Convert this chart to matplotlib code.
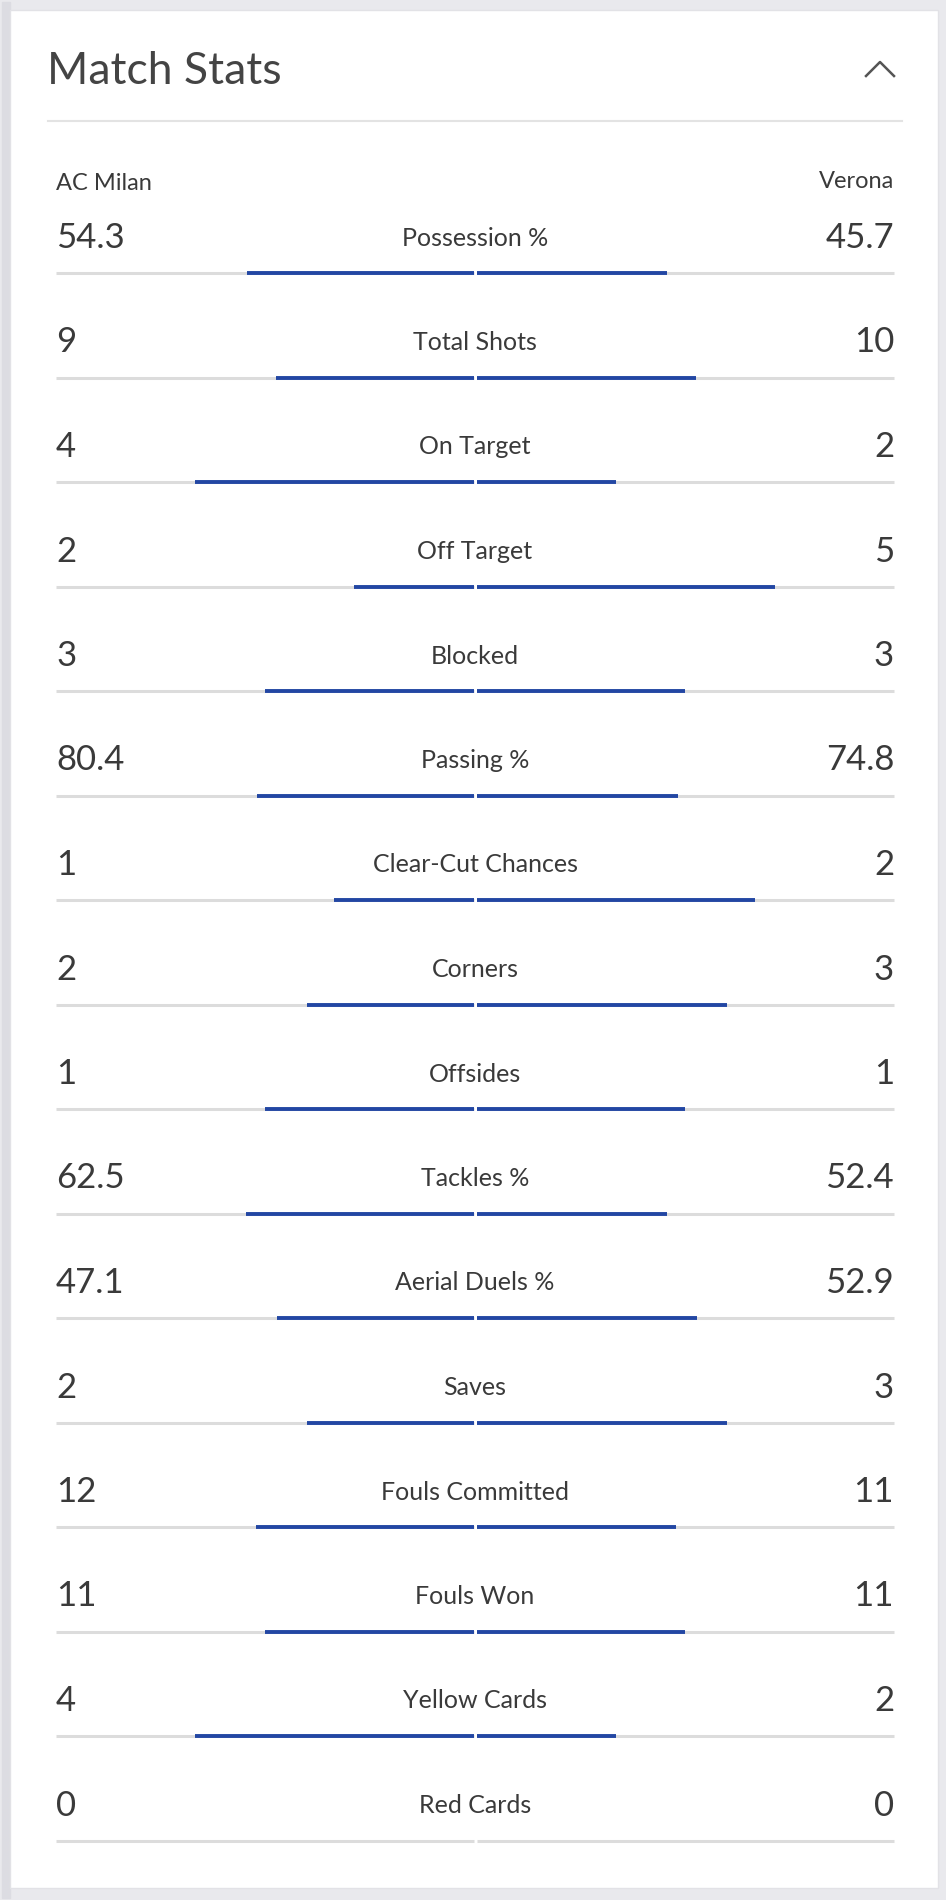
import matplotlib
matplotlib.use("Agg")
import matplotlib.pyplot as plt
from matplotlib.patches import Rectangle
from matplotlib.lines import Line2D

home_team = "AC Milan"
away_team = "Verona"
stat_labels = ["Possession %", "Total Shots", "On Target", "Off Target", "Blocked",
               "Passing %", "Clear-Cut Chances", "Corners", "Offsides", "Tackles %",
               "Aerial Duels %", "Saves", "Fouls Committed", "Fouls Won",
               "Yellow Cards", "Red Cards"]
home_values = ["54.3", "9", "4", "2", "3", "80.4", "1", "2", "1", "62.5", "47.1",
               "2", "12", "11", "4", "0"]
away_values = ["45.7", "10", "2", "5", "3", "74.8", "2", "3", "1", "52.4", "52.9",
               "3", "11", "11", "2", "0"]

W, H = 946, 1900
fig = plt.figure(figsize=(W / 100, H / 100), dpi=100)
fig.patch.set_facecolor("#e9e9ed")
ax = fig.add_axes([0, 0, 1, 1])
ax.set_xlim(0, W)
ax.set_ylim(H, 0)
ax.axis("off")

FONT = ["Lato", "DejaVu Sans"]
TXT = "#3a3a3a"
BLUE = "#2246a3"
TRACK = "#dcdcdc"

# card
ax.add_patch(Rectangle((2, 2), 8, H - 4, color="#dcdce2", zorder=0))
ax.add_patch(Rectangle((10, 10), 928, 1878, facecolor="white", edgecolor="#e2e2e6",
                       lw=1, zorder=1))

# header
ax.text(47, 71, "Match Stats", fontsize=32, color="#444444", family=FONT,
        weight="normal", va="center", ha="left", zorder=3)
ax.add_line(Line2D([866, 880, 894], [76, 62, 76], color="#555555", lw=1.8, zorder=3))
ax.add_line(Line2D([48, 902], [121, 121], color="#e3e3e3", lw=1.5, zorder=2))

ax.text(56, 184, home_team, fontsize=17, color=TXT, family=FONT, va="center",
        ha="left", zorder=3)
ax.text(894, 182, away_team, fontsize=17, color=TXT, family=FONT, va="center",
        ha="right", zorder=3)

x_left, x_center, x_right = 56, 475, 894
half_l = x_center - 1.5 - x_left
half_r = x_right - (x_center + 1.5)
row0, step = 238, 104.5

for i, (lab, hv, av) in enumerate(zip(stat_labels, home_values, away_values)):
    y = row0 + i * step
    ty = y + 35
    ax.text(x_left, y, hv, fontsize=25, color=TXT, family=FONT, weight="normal",
            va="center", ha="left", zorder=3)
    ax.text(x_right, y, av, fontsize=25, color=TXT, family=FONT, weight="normal",
            va="center", ha="right", zorder=3)
    ax.text(x_center, y, lab, fontsize=18, color=TXT, family=FONT,
            va="center", ha="center", zorder=3)
    # tracks
    ax.add_line(Line2D([x_left, x_center - 1.5], [ty, ty], color=TRACK, lw=2.2,
                       solid_capstyle="butt", zorder=2))
    ax.add_line(Line2D([x_center + 1.5, x_right], [ty, ty], color=TRACK, lw=2.2,
                       solid_capstyle="butt", zorder=2))
    h, a = float(hv), float(av)
    tot = h + a
    if tot > 0:
        fh, fa = h / tot, a / tot
        if fh > 0:
            ax.add_line(Line2D([x_center - 1.5 - fh * half_l, x_center - 1.5], [ty, ty],
                               color=BLUE, lw=2.8, solid_capstyle="butt", zorder=3))
        if fa > 0:
            ax.add_line(Line2D([x_center + 1.5, x_center + 1.5 + fa * half_r], [ty, ty],
                               color=BLUE, lw=2.8, solid_capstyle="butt", zorder=3))

fig.savefig("out.png", dpi=100, facecolor=fig.get_facecolor())
